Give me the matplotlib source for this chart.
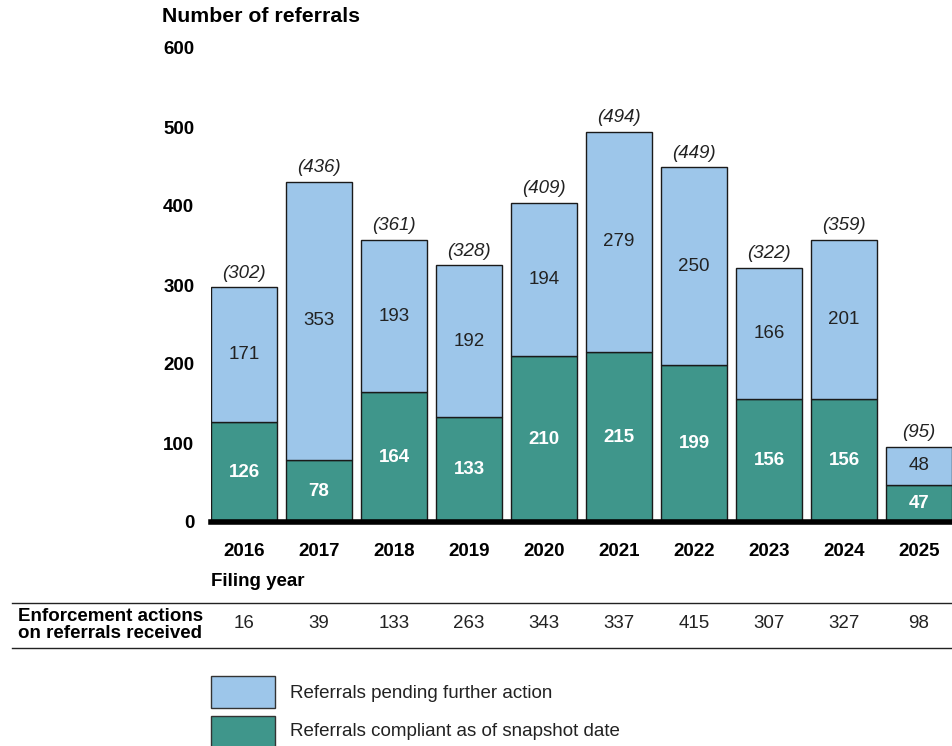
import matplotlib.pyplot as plt
from matplotlib.patches import Rectangle
from matplotlib.lines import Line2D
from matplotlib.transforms import blended_transform_factory

plt.rcParams['font.family'] = ['Liberation Sans', 'DejaVu Sans']

# Datos
years = ['2016', '2017', '2018', '2019', '2020', '2021', '2022', '2023', '2024', '2025']
compliant = [126, 78, 164, 133, 210, 215, 199, 156, 156, 47]
pending = [171, 353, 193, 192, 194, 279, 250, 166, 201, 48]
totals = [302, 436, 361, 328, 409, 494, 449, 322, 359, 95]
enforcement = [16, 39, 133, 263, 343, 337, 415, 307, 327, 98]

c_pending = '#9dc6ea'
c_compliant = '#3f968b'
W, H = 953, 746
fs = 13.5

fig = plt.figure(figsize=(W / 100, H / 100), dpi=100)
ax = fig.add_axes([211 / W, 1 - 522 / H, 741 / W, 474 / H])

x = list(range(len(years)))
ax.bar(x, compliant, width=0.88, color=c_compliant, edgecolor='#1a1a1a', linewidth=1)
ax.bar(x, pending, bottom=compliant, width=0.88, color=c_pending, edgecolor='#1a1a1a', linewidth=1)

for i in x:
    ax.text(i, compliant[i] / 2, str(compliant[i]), ha='center', va='center',
            color='white', fontsize=fs, fontweight='bold')
    ax.text(i, compliant[i] + pending[i] / 2, str(pending[i]), ha='center', va='center',
            color='#222222', fontsize=fs)
    ax.text(i, compliant[i] + pending[i] + 7, '(%d)' % totals[i], ha='center', va='bottom',
            color='#222222', fontsize=fs, style='italic')

ax.set_xlim(-0.44, 9.44)
ax.set_ylim(0, 600)
ax.set_yticks(range(0, 601, 100))
ax.set_xticks(x)
ax.set_xticklabels(years, fontweight='bold', fontsize=fs)
for lab in ax.get_yticklabels():
    lab.set_fontweight('bold')
    lab.set_fontsize(fs)
ax.tick_params(length=0)
ax.tick_params(axis='x', pad=15)
ax.tick_params(axis='y', pad=12)
for s in ['top', 'right', 'left']:
    ax.spines[s].set_visible(False)
ax.spines['bottom'].set_linewidth(4)
ax.spines['bottom'].set_color('black')

fig.text(162 / W, 1 - 16 / H, 'Number of referrals', fontsize=15.3, fontweight='bold',
         ha='left', va='center')
fig.text(211 / W, 1 - 581 / H, 'Filing year', fontsize=fs, fontweight='bold',
         ha='left', va='center')

# Tabla de acciones
fig.add_artist(Line2D([12 / W, 952 / W], [1 - 603 / H, 1 - 603 / H], color='#222222', lw=1))
fig.add_artist(Line2D([12 / W, 952 / W], [1 - 648 / H, 1 - 648 / H], color='#222222', lw=1))
fig.text(18 / W, 1 - 625 / H, 'Enforcement actions\non referrals received', fontsize=fs,
         fontweight='bold', ha='left', va='center', linespacing=0.95)
trans = blended_transform_factory(ax.transData, fig.transFigure)
for i in x:
    ax.text(i, 1 - 624 / H, str(enforcement[i]), transform=trans, ha='center', va='center',
            fontsize=fs, color='#222222', clip_on=False)

# Leyenda
fig.add_artist(Rectangle((211 / W, 1 - 708 / H), 64 / W, 32 / H, transform=fig.transFigure,
                         facecolor=c_pending, edgecolor='#333333', lw=1))
fig.add_artist(Rectangle((211 / W, 1 - 748 / H), 64 / W, 32 / H, transform=fig.transFigure,
                         facecolor=c_compliant, edgecolor='#333333', lw=1))
fig.text(290 / W, 1 - 694 / H, 'Referrals pending further action', fontsize=fs,
         ha='left', va='center', color='#222222')
fig.text(290 / W, 1 - 732 / H, 'Referrals compliant as of snapshot date', fontsize=fs,
         ha='left', va='center', color='#222222')

fig.savefig('out.png', dpi=100)
